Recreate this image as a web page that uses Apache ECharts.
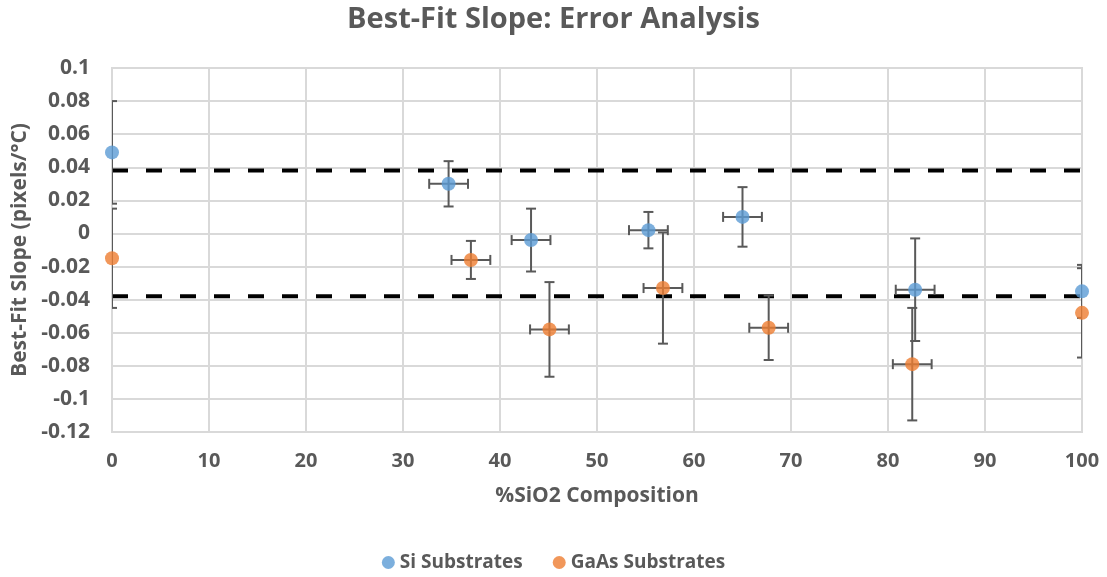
<!DOCTYPE html>
<html>
<head>
<meta charset="utf-8">
<script src="https://cdn.jsdelivr.net/npm/echarts@6/dist/echarts.min.js"></script>
<style>
html,body{margin:0;padding:0;background:#fff;}
#chart{width:1107px;height:577px;}
</style>
</head>
<body>
<div id="chart"></div>
<script>
// ---- data ----
const titleText = 'Best-Fit Slope: Error Analysis';
const xAxisTitle = '%SiO2 Composition';
const yAxisTitle = 'Best-Fit Slope (pixels/°C)';
const seriesNames = ['Si Substrates', 'GaAs Substrates'];

const siX    = [0, 34.7, 43.2, 55.3, 65.0, 82.8, 100];
const siY    = [0.049, 0.030, -0.004, 0.002, 0.010, -0.034, -0.035];
const siXErr = [0, 2, 2, 2, 2, 2, 0];
const siYErr = [0.031, 0.0137, 0.019, 0.011, 0.018, 0.031, 0.016];

const gaX    = [0, 37.0, 45.1, 56.8, 67.7, 82.5, 100];
const gaY    = [-0.015, -0.016, -0.058, -0.033, -0.057, -0.079, -0.048];
const gaXErr = [0, 2, 2, 2, 2, 2, 0];
const gaYErr = [0.030, 0.0115, 0.0286, 0.0336, 0.0195, 0.034, 0.027];

const upperLimit = 0.038;
const lowerLimit = -0.038;

const xMin = 0, xMax = 100, xStep = 10;
const yMin = -0.12, yMax = 0.1, yStep = 0.02;

// ---- build ----
const FONT = '"Open Sans","Noto Sans",Arial,sans-serif';
const GRAY = '#595959';
const BLUE = '#5B9BD5';
const ORANGE = '#ED7D31';

function pts(xs, ys) { return xs.map((x, i) => [x, ys[i]]); }
function errPts(xs, ys, xe, ye) { return xs.map((x, i) => [x, ys[i], xe[i], ye[i]]); }

function renderErr(params, api) {
  const x = api.value(0), y = api.value(1), xe = api.value(2), ye = api.value(3);
  const cap = 5;
  const style = { stroke: GRAY, lineWidth: 2, fill: null };
  const children = [];
  if (ye > 0) {
    const t = api.coord([x, y + ye]);
    const b = api.coord([x, y - ye]);
    children.push({ type: 'line', shape: { x1: t[0], y1: t[1], x2: b[0], y2: b[1] }, style });
    children.push({ type: 'line', shape: { x1: t[0] - cap, y1: t[1], x2: t[0] + cap, y2: t[1] }, style });
    children.push({ type: 'line', shape: { x1: b[0] - cap, y1: b[1], x2: b[0] + cap, y2: b[1] }, style });
  }
  if (xe > 0) {
    const l = api.coord([x - xe, y]);
    const r = api.coord([x + xe, y]);
    children.push({ type: 'line', shape: { x1: l[0], y1: l[1], x2: r[0], y2: r[1] }, style });
    children.push({ type: 'line', shape: { x1: l[0], y1: l[1] - cap, x2: l[0], y2: l[1] + cap }, style });
    children.push({ type: 'line', shape: { x1: r[0], y1: r[1] - cap, x2: r[0], y2: r[1] + cap }, style });
  }
  return { type: 'group', children };
}

const chart = echarts.init(document.getElementById('chart'), null, { renderer: 'canvas' });
const option = {
  backgroundColor: '#fff',
  animation: false,
  title: {
    text: titleText, left: 'center', top: 0,
    textStyle: { fontFamily: FONT, fontSize: 29, fontWeight: 'bold', color: GRAY }
  },
  legend: {
    data: seriesNames.map(n => ({ name: n, icon: 'circle' })),
    bottom: 0, left: 'center', itemWidth: 13, itemHeight: 13, itemGap: 30,
    textStyle: { fontFamily: FONT, fontSize: 19, fontWeight: 'bold', color: GRAY }
  },
  grid: { left: 112, right: 25, top: 68, bottom: 145, containLabel: false,
          show: true, borderColor: '#d9d9d9', borderWidth: 2 },
  xAxis: {
    type: 'value', min: xMin, max: xMax, interval: xStep,
    name: xAxisTitle, nameLocation: 'middle', nameGap: 54,
    nameTextStyle: { fontFamily: FONT, fontSize: 21, fontWeight: 'bold', color: GRAY },
    axisLine: { show: true, lineStyle: { color: '#d9d9d9', width: 2 } },
    axisTick: { show: false },
    axisLabel: { margin: 19, fontFamily: FONT, fontSize: 20, fontWeight: 'bold', color: GRAY },
    splitLine: { show: true, lineStyle: { color: '#d9d9d9', width: 2 } }
  },
  yAxis: {
    type: 'value', min: yMin, max: yMax, interval: yStep,
    name: yAxisTitle, nameLocation: 'middle', nameGap: 76, nameRotate: 90,
    nameTextStyle: { fontFamily: FONT, fontSize: 21, fontWeight: 'bold', color: GRAY },
    axisLine: { show: true, lineStyle: { color: '#d9d9d9', width: 2 } },
    axisTick: { show: false },
    axisLabel: { margin: 22, fontFamily: FONT, fontSize: 21, fontWeight: 'bold', color: GRAY,
                 formatter: v => String(Number(v.toFixed(2))) },
    splitLine: { show: true, lineStyle: { color: '#d9d9d9', width: 2 } }
  },
  series: [
    { name: 'upper', type: 'line', data: [[xMin, upperLimit], [xMax, upperLimit]], symbol: 'none', z: 1,
      lineStyle: { color: '#000', width: 4, type: [16, 18], cap: 'butt' }, silent: true },
    { name: 'lower', type: 'line', data: [[xMin, lowerLimit], [xMax, lowerLimit]], symbol: 'none', z: 1,
      lineStyle: { color: '#000', width: 4, type: [16, 18], cap: 'butt' }, silent: true },
    { name: 'Si err', type: 'custom', renderItem: renderErr, clip: true, z: 2,
      data: errPts(siX, siY, siXErr, siYErr), encode: { x: 0, y: 1 } },
    { name: 'GaAs err', type: 'custom', renderItem: renderErr, clip: true, z: 2,
      data: errPts(gaX, gaY, gaXErr, gaYErr), encode: { x: 0, y: 1 } },
    { name: seriesNames[0], type: 'scatter', data: pts(siX, siY), symbolSize: 14, z: 3,
      itemStyle: { color: BLUE } },
    { name: seriesNames[1], type: 'scatter', data: pts(gaX, gaY), symbolSize: 14, z: 3,
      itemStyle: { color: ORANGE } }
  ]
};
chart.setOption(option);
</script>
</body>
</html>
